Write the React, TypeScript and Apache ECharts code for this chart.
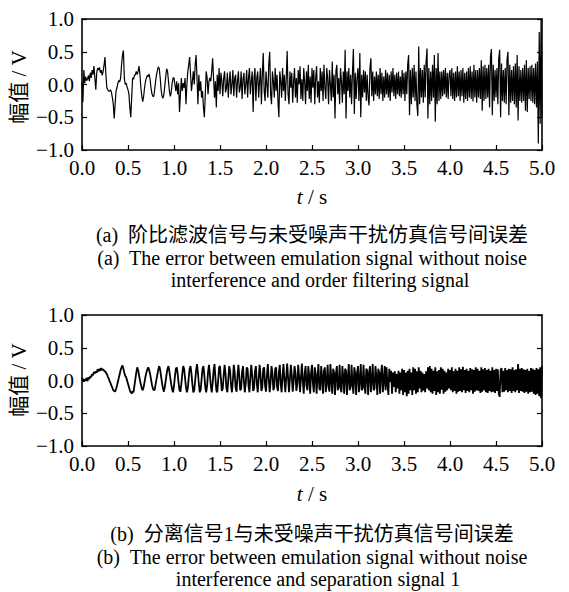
import React, { useEffect, useRef } from "react";
import * as echarts from "echarts";

// sample step of the recorded error signals (s)
const T_STEP = 0.01;
const X_TICKS = [0, 0.5, 1, 1.5, 2, 2.5, 3, 3.5, 4, 4.5, 5];
const Y_TICKS = [-1, -0.5, 0, 0.5, 1];

// (a) order filtering signal error, one row = 0.1 s
const errA = [
  0.03,-0.27,0.22,0.02,0.12,0.06,0.08,0.14,0.05,0.18,
  0.10,0.22,0.15,0.28,0.10,-0.08,0.18,0.25,0.22,0.26,
  0.18,0.22,0.14,0.20,0.30,0.42,0.15,-0.05,-0.08,-0.10,
  -0.10,-0.08,-0.12,-0.20,-0.30,-0.52,-0.30,-0.10,-0.05,0.02,
  0.06,0.04,0.10,0.30,0.45,0.52,0.10,0.00,0.02,-0.04,
  -0.08,-0.15,-0.35,-0.50,-0.20,0.10,0.08,0.14,0.15,0.20,
  0.15,0.20,0.28,0.15,-0.05,-0.18,-0.26,-0.18,-0.05,0.05,
  0.10,0.14,0.12,0.16,0.08,-0.05,-0.14,-0.18,-0.18,-0.08,
  0.05,0.15,0.22,0.27,0.24,0.10,-0.08,-0.18,-0.21,-0.15,
  -0.02,0.12,0.24,0.20,0.05,-0.10,-0.18,-0.12,0.02,0.10,
  0.10,0.00,-0.10,0.05,-0.15,0.02,-0.42,-0.15,0.10,-0.10,
  0.02,-0.05,0.10,-0.30,0.00,0.20,0.30,0.42,0.15,-0.10,
  0.05,0.20,0.00,0.30,0.45,0.10,-0.30,0.15,-0.10,0.05,
  -0.20,-0.10,-0.35,-0.50,-0.15,0.20,0.10,-0.15,0.05,0.10,
  0.05,0.20,0.40,0.10,-0.20,0.05,-0.35,0.15,-0.10,0.25,
  -0.15,0.18,0.05,-0.18,0.10,0.20,-0.12,-0.05,0.18,-0.20,
  0.05,0.20,-0.15,0.00,0.22,-0.18,0.10,0.15,-0.20,0.05,
  0.20,-0.12,-0.05,0.20,-0.22,0.08,0.18,-0.15,0.00,0.22,
  -0.20,0.10,0.25,-0.15,0.05,0.20,-0.42,0.10,0.25,-0.25,
  0.10,0.20,-0.20,0.05,0.25,-0.30,0.15,0.48,-0.10,-0.25,
  0.20,0.00,-0.20,0.30,0.50,-0.15,-0.30,0.20,0.05,-0.20,
  0.25,-0.10,0.15,-0.25,-0.50,0.20,0.05,-0.20,0.25,-0.10,
  0.15,-0.25,0.10,0.51,-0.15,-0.30,0.20,-0.05,0.18,-0.28,
  0.05,0.25,-0.20,0.10,-0.28,0.22,0.00,0.28,-0.22,0.08,
  -0.25,0.25,0.05,-0.30,0.20,-0.10,0.30,-0.22,0.12,-0.28,
  0.25,-0.05,0.22,-0.30,0.10,0.28,-0.20,0.05,-0.28,0.25,
  -0.10,0.20,-0.25,0.30,-0.05,-0.22,0.25,0.10,-0.30,0.22,
  0.00,-0.25,0.35,-0.20,0.15,-0.52,0.20,0.30,-0.15,0.10,
  -0.30,0.25,0.05,-0.28,0.20,-0.15,0.53,-0.52,0.20,-0.10,
  0.25,-0.20,0.15,-0.30,0.20,0.54,-0.45,0.18,-0.22,0.10,
  0.25,-0.25,0.48,-0.50,0.15,-0.20,0.22,-0.12,0.20,-0.25,
  0.15,-0.20,-0.32,0.25,0.40,-0.18,0.20,-0.25,0.12,-0.15,
  0.20,-0.18,0.15,-0.22,0.25,-0.15,0.18,-0.25,0.12,-0.20,
  0.22,-0.15,0.18,-0.20,0.15,-0.25,0.20,-0.12,0.25,-0.18,
  0.15,-0.22,0.18,-0.15,0.20,-0.18,0.12,-0.20,0.22,-0.15,
  0.18,-0.25,0.20,-0.15,0.30,0.45,-0.47,0.22,-0.30,0.25,
  -0.20,0.30,-0.25,0.20,-0.30,-0.48,0.58,-0.30,0.25,-0.20,
  0.22,-0.28,0.30,-0.20,0.35,0.55,-0.52,0.25,-0.30,0.20,
  -0.25,0.30,-0.20,0.45,-0.57,0.25,-0.30,0.48,-0.25,0.20,
  -0.22,0.20,-0.18,0.22,-0.15,0.25,-0.20,0.18,-0.22,0.15,
  0.22,-0.18,0.25,-0.22,0.18,-0.25,0.20,-0.20,0.28,-0.18,
  0.20,-0.25,0.22,-0.18,0.25,-0.28,0.18,-0.22,0.20,-0.25,
  0.25,-0.20,0.28,-0.22,0.20,-0.26,0.30,-0.20,0.22,-0.28,
  0.22,-0.20,0.25,-0.22,0.37,-0.40,0.28,-0.25,0.30,-0.22,
  0.25,-0.20,0.30,-0.35,0.42,0.54,-0.47,0.30,-0.25,0.22,
  -0.20,0.25,-0.30,0.40,0.53,-0.50,0.32,-0.25,0.22,-0.28,
  0.25,-0.30,0.38,0.50,-0.47,0.30,-0.28,0.22,-0.25,0.28,
  -0.30,0.32,-0.35,0.45,-0.55,0.28,-0.25,0.22,-0.28,0.25,
  -0.25,0.30,-0.40,0.37,-0.42,0.25,-0.22,0.28,-0.25,0.30,
  -0.28,0.25,-0.30,0.32,-0.35,0.35,-0.90,0.80,-0.60,1.00,
  -0.50,
];

// (b) separation signal 1 error, one row = 0.1 s
const errB = [
  0.00,0.03,-0.02,0.02,0.00,0.04,-0.01,0.05,0.02,0.07,
  0.05,0.10,0.08,0.13,0.11,0.14,0.12,0.17,0.14,0.18,
  0.15,0.19,0.16,0.17,0.15,0.14,0.12,0.10,0.06,0.03,
  -0.01,-0.04,-0.08,-0.11,-0.15,-0.16,-0.17,-0.13,-0.08,-0.02,
  0.04,0.10,0.16,0.20,0.23,0.18,0.12,0.07,0.05,0.00,
  -0.05,-0.10,-0.15,-0.18,-0.20,-0.16,-0.18,-0.08,0.02,0.12,
  0.20,0.16,0.08,0.00,-0.06,-0.12,-0.15,-0.10,-0.02,0.06,
  0.12,0.17,0.20,0.16,0.10,0.02,-0.06,-0.12,-0.15,-0.14,
  -0.06,0.02,0.10,0.17,0.22,0.16,0.06,-0.04,-0.12,-0.17,
  -0.10,0.00,0.10,0.18,0.22,0.14,0.04,-0.06,-0.14,-0.18,
  -0.08,0.06,0.18,0.20,0.10,-0.04,-0.15,-0.17,-0.05,0.10,
  0.22,0.18,0.04,-0.10,-0.18,-0.12,0.04,0.18,0.22,0.10,
  -0.06,-0.18,-0.15,0.00,0.15,0.25,0.12,-0.05,-0.18,-0.14,
  0.02,0.18,0.22,0.08,-0.10,-0.18,-0.08,0.12,0.24,0.10,
  -0.08,-0.18,-0.05,0.15,0.25,0.05,-0.15,-0.18,0.00,0.20,
  0.22,0.02,-0.16,-0.12,0.08,0.24,0.10,-0.12,-0.18,0.02,
  0.22,0.15,-0.08,-0.18,0.00,0.24,0.12,-0.12,-0.17,0.06,
  0.24,0.06,-0.15,-0.12,0.14,0.22,-0.02,-0.18,-0.04,0.20,
  0.18,-0.08,-0.18,0.06,0.24,0.08,-0.16,-0.12,0.14,0.22,
  -0.04,-0.18,0.02,0.24,0.10,-0.16,-0.10,0.18,0.20,-0.08,
  -0.17,0.08,0.25,0.02,-0.18,-0.02,0.22,0.12,-0.15,-0.10,
  0.18,0.20,-0.10,-0.16,0.12,0.24,-0.06,-0.18,0.08,0.25,
  0.00,-0.18,0.05,0.26,0.04,-0.18,0.02,0.24,0.08,-0.17,
  -0.02,0.22,0.12,-0.16,-0.06,0.24,0.06,-0.18,0.04,0.26,
  0.00,-0.20,0.10,0.22,-0.08,-0.15,0.22,0.05,-0.20,0.12,
  0.24,-0.05,-0.18,0.20,0.10,-0.20,0.05,0.25,-0.12,-0.15,
  0.22,0.05,-0.20,0.15,0.20,-0.18,-0.02,0.24,-0.10,-0.17,
  0.25,0.02,-0.20,0.18,0.12,-0.22,0.10,0.22,-0.15,-0.08,
  0.24,-0.12,-0.18,0.22,0.05,-0.20,0.18,0.15,-0.22,0.05,
  0.25,-0.15,-0.10,0.24,-0.05,-0.20,0.20,0.10,-0.22,0.12,
  0.22,-0.18,0.00,0.25,-0.15,-0.12,0.24,-0.08,-0.20,0.18,
  0.15,-0.22,0.10,0.22,-0.18,0.02,0.25,-0.15,-0.12,0.22,
  0.05,-0.22,0.18,0.12,-0.20,0.10,0.24,-0.18,0.00,0.22,
  -0.15,0.20,-0.05,-0.22,0.18,-0.02,0.15,-0.20,0.12,-0.10,
  0.14,-0.18,0.10,-0.12,0.15,-0.20,0.12,-0.15,0.18,-0.22,
  0.16,-0.18,0.12,-0.24,0.15,-0.20,0.18,-0.15,0.12,-0.22,
  0.20,-0.15,0.18,-0.20,0.14,-0.18,0.20,-0.12,0.15,-0.18,
  0.12,-0.15,0.10,-0.18,0.14,-0.12,0.20,-0.15,0.22,-0.18,
  0.18,-0.20,0.15,-0.16,0.20,-0.22,0.14,-0.18,0.16,-0.20,
  0.20,-0.14,0.18,-0.20,0.15,-0.17,0.12,-0.15,0.18,-0.12,
  0.16,-0.15,0.20,-0.18,0.14,-0.16,0.18,-0.20,0.15,-0.17,
  0.20,-0.16,0.17,-0.18,0.21,-0.15,0.16,-0.19,0.18,-0.16,
  0.15,-0.18,0.19,-0.15,0.17,-0.20,0.16,-0.17,0.20,-0.15,
  0.18,-0.16,0.15,-0.19,0.20,-0.17,0.17,-0.15,0.19,-0.18,
  0.16,-0.19,0.18,-0.16,0.15,-0.18,0.20,-0.17,0.16,-0.19,
  0.18,-0.16,0.17,-0.20,-0.25,0.16,0.19,-0.18,0.15,-0.17,
  0.19,-0.15,0.16,-0.18,0.18,-0.16,0.17,-0.19,0.20,-0.16,
  0.16,-0.18,0.17,-0.15,0.25,-0.19,0.18,-0.16,0.19,-0.17,
  0.17,-0.19,0.16,-0.17,0.18,-0.20,0.15,-0.18,0.19,-0.17,
  0.18,-0.20,0.16,-0.22,0.19,-0.20,0.17,-0.24,0.20,-0.27,
  0.22,
];

const Y_NAME = "幅值 / V";
const CAPTION_A = [
  "(a)  阶比滤波信号与未受噪声干扰仿真信号间误差",
  "(a)  The error between emulation signal without noise",
  "interference and order filtering signal",
];
const CAPTION_B = [
  "(b)  分离信号1与未受噪声干扰仿真信号间误差",
  "(b)  The error between emulation signal without noise",
  "interference and separation signal 1",
];

const FONT = "'Liberation Serif', 'Times New Roman', 'Noto Sans CJK SC', serif";
const FS = 21;
const CAP_FS = 20;

const toPairs = (arr: number[]) => arr.map((v, i) => [Number((i * T_STEP).toFixed(2)), v]);
const fmtY = (v: number) => (v < 0 ? "\u2212" : "") + Math.abs(v).toFixed(1);

export default function App() {
  const ref = useRef<HTMLDivElement>(null);
  useEffect(() => {
    document.body.style.margin = "0";
    if (!ref.current) return;
    const chart = echarts.init(ref.current, undefined, { renderer: "svg" });

    const grids = [
      { left: 82, top: 19, width: 460, height: 131 },
      { left: 82, top: 315, width: 460, height: 131 },
    ];
    const line = { show: true, onZero: false, lineStyle: { color: "#000", width: 1.6 } };
    const tick = { show: true, inside: true, length: 5, lineStyle: { color: "#000", width: 1.2 } };
    const lbl = { color: "#000", fontFamily: FONT, fontSize: FS };

    const xAxis: any[] = [];
    const yAxis: any[] = [];
    grids.forEach((_, gi) => {
      xAxis.push({
        type: "value", gridIndex: gi, min: X_TICKS[0], max: X_TICKS[X_TICKS.length - 1], interval: 0.5,
        axisLine: line, axisTick: tick, splitLine: { show: false },
        axisLabel: { ...lbl, margin: 7, formatter: (v: number) => v.toFixed(1) },
      });
      xAxis.push({
        type: "value", gridIndex: gi, position: "top", min: 0, max: 5, interval: 0.5,
        axisLine: line, axisTick: { show: false }, axisLabel: { show: false }, splitLine: { show: false },
      });
      yAxis.push({
        type: "value", gridIndex: gi, min: Y_TICKS[0], max: Y_TICKS[Y_TICKS.length - 1], interval: 0.5,
        axisLine: line, axisTick: tick, splitLine: { show: false },
        axisLabel: { ...lbl, margin: 8, formatter: fmtY },
      });
      yAxis.push({
        type: "value", gridIndex: gi, position: "right", min: -1, max: 1, interval: 0.5,
        axisLine: line, axisTick: tick, axisLabel: { show: false }, splitLine: { show: false },
      });
    });

    const txt = (text: string, x: number, y: number, extra: any = {}) => ({
      type: "text", x, y, silent: true, ...extra,
      style: {
        text, fill: "#000", fontFamily: FONT, fontSize: CAP_FS,
        align: "center", verticalAlign: "middle", textAlign: "center", textVerticalAlign: "middle",
        ...(extra.style || {}),
      },
    });
    const tName = (y: number) => ({
      type: "text", x: 312, y, silent: true,
      style: {
        text: "{i|t} / s", fill: "#000", fontFamily: FONT, fontSize: FS,
        align: "center", verticalAlign: "middle", textAlign: "center", textVerticalAlign: "middle",
        rich: { i: { fontStyle: "italic", fontFamily: FONT, fontSize: FS, fill: "#000" } },
      },
    });

    const graphic = [
      txt(Y_NAME, 19, 87, { rotation: Math.PI / 2, style: { fontSize: 21 } }),
      txt(Y_NAME, 19, 380, { rotation: Math.PI / 2, style: { fontSize: 21 } }),
      tName(197),
      tName(494),
      txt(CAPTION_A[0], 312, 235),
      txt(CAPTION_A[1], 312, 257.5),
      txt(CAPTION_A[2], 320, 280),
      txt(CAPTION_B[0], 312, 534),
      txt(CAPTION_B[1], 312, 556.5),
      txt(CAPTION_B[2], 318, 579),
    ];

    const mkSeries = (data: number[], gi: number, w: number) => ({
      type: "line", xAxisIndex: gi * 2, yAxisIndex: gi * 2, data: toPairs(data),
      showSymbol: false, symbol: "none", clip: true,
      lineStyle: { color: "#000", width: w },
    });

    chart.setOption({
      animation: false,
      backgroundColor: "#fff",
      grid: grids,
      xAxis,
      yAxis,
      series: [mkSeries(errA, 0, 1.2), mkSeries(errB, 1, 1.8)],
      graphic,
    });
    return () => chart.dispose();
  }, []);
  return <div ref={ref} style={{ width: 569, height: 592, position: "absolute", left: 0, top: 0 }} />;
}
